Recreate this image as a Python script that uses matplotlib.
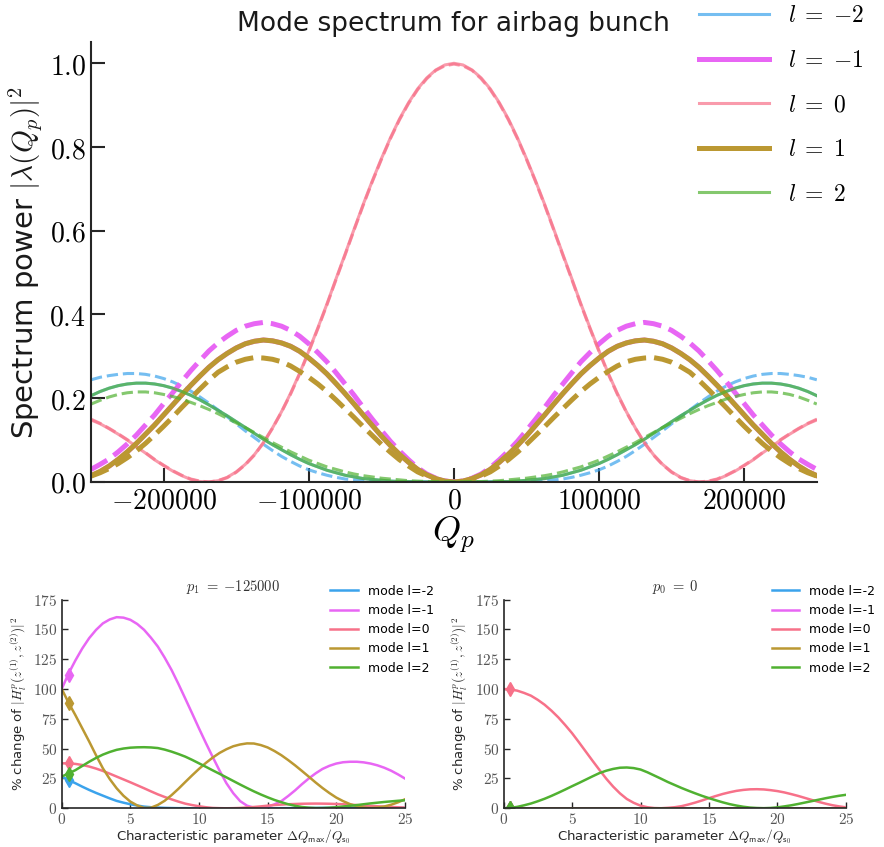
import numpy as np
import matplotlib
matplotlib.use('Agg')
import matplotlib.pyplot as plt
from matplotlib.ticker import FuncFormatter

plt.rcParams['mathtext.fontset'] = 'cm'
plt.rcParams['font.family'] = ['DejaVu Sans']

# ---- top panel: spectrum power vs Q_p (solid = unperturbed, dashed = perturbed)
qp = np.arange(-250000, 250001, 6250)
modes = [-2, -1, 0, 1, 2]
colors = ['#3ba3ec', '#e866f4', '#f77189', '#bb9832', '#50b131']

sp_2 = [0.206, 0.216, 0.224, 0.230, 0.234, 0.236, 0.236, 0.234, 0.230, 0.224, 0.216,
        0.207, 0.196, 0.184, 0.171, 0.158, 0.144, 0.130, 0.116, 0.102, 0.089, 0.077,
        0.065, 0.054, 0.044, 0.036, 0.028, 0.022, 0.016, 0.012, 0.008, 0.006, 0.004,
        0.002, 0.001, 0.001, 0.000, 0.000, 0.000, 0.000, 0.000,
        0.000, 0.000, 0.000, 0.000, 0.001, 0.001, 0.002, 0.004, 0.006, 0.008, 0.012,
        0.016, 0.022, 0.028, 0.036, 0.044, 0.054, 0.065, 0.077, 0.089, 0.102, 0.116,
        0.130, 0.144, 0.158, 0.171, 0.184, 0.196, 0.207, 0.216, 0.224, 0.230, 0.234,
        0.236, 0.236, 0.234, 0.230, 0.224, 0.216, 0.206]
sp_1 = [0.015, 0.025, 0.038, 0.054, 0.072, 0.092, 0.114, 0.136, 0.160, 0.184, 0.208,
        0.231, 0.253, 0.274, 0.292, 0.307, 0.320, 0.330, 0.336, 0.339, 0.337, 0.332,
        0.324, 0.312, 0.296, 0.278, 0.258, 0.235, 0.211, 0.186, 0.160, 0.135, 0.110,
        0.087, 0.066, 0.047, 0.030, 0.017, 0.008, 0.002, 0.000,
        0.002, 0.008, 0.017, 0.030, 0.047, 0.066, 0.087, 0.110, 0.135, 0.160, 0.186,
        0.211, 0.235, 0.258, 0.278, 0.296, 0.312, 0.324, 0.332, 0.337, 0.339, 0.336,
        0.330, 0.320, 0.307, 0.292, 0.274, 0.253, 0.231, 0.208, 0.184, 0.160, 0.136,
        0.114, 0.092, 0.072, 0.054, 0.038, 0.025, 0.015]
sp_0 = [0.148, 0.139, 0.127, 0.114, 0.100, 0.084, 0.069, 0.053, 0.039, 0.026, 0.015,
        0.006, 0.001, 0.000, 0.003, 0.011, 0.024, 0.042, 0.065, 0.094, 0.129, 0.168,
        0.212, 0.260, 0.313, 0.368, 0.425, 0.485, 0.544, 0.604, 0.663, 0.719, 0.772,
        0.822, 0.867, 0.906, 0.939, 0.965, 0.984, 0.996, 1.000,
        0.996, 0.984, 0.965, 0.939, 0.906, 0.867, 0.822, 0.772, 0.719, 0.663, 0.604,
        0.544, 0.485, 0.425, 0.368, 0.313, 0.260, 0.212, 0.168, 0.129, 0.094, 0.065,
        0.042, 0.024, 0.011, 0.003, 0.000, 0.001, 0.006, 0.015, 0.026, 0.039, 0.053,
        0.069, 0.084, 0.100, 0.114, 0.127, 0.139, 0.148]

pert_m2 = [0.244, 0.250, 0.254, 0.257, 0.259, 0.259, 0.257, 0.253, 0.247, 0.239, 0.229,
           0.217, 0.203, 0.188, 0.172, 0.156, 0.139, 0.122, 0.106, 0.090, 0.075, 0.061,
           0.049, 0.038, 0.029, 0.022, 0.016, 0.011, 0.007, 0.005, 0.003, 0.002, 0.001,
           0.000, 0.000, 0.000, 0.000, 0.000, 0.000, 0.000, 0.000,
           0.000, 0.000, 0.000, 0.000, 0.000, 0.000, 0.000, 0.001, 0.002, 0.003, 0.005,
           0.007, 0.011, 0.016, 0.022, 0.029, 0.038, 0.049, 0.061, 0.075, 0.090, 0.106,
           0.122, 0.139, 0.156, 0.172, 0.188, 0.203, 0.217, 0.229, 0.239, 0.247, 0.253,
           0.257, 0.259, 0.259, 0.257, 0.254, 0.250, 0.244]
pert_m1 = [0.030, 0.042, 0.055, 0.072, 0.091, 0.112, 0.136, 0.160, 0.187, 0.213, 0.240,
           0.266, 0.290, 0.313, 0.332, 0.348, 0.362, 0.372, 0.378, 0.381, 0.378, 0.372,
           0.362, 0.348, 0.330, 0.309, 0.287, 0.261, 0.234, 0.207, 0.178, 0.150, 0.123,
           0.097, 0.074, 0.053, 0.034, 0.019, 0.009, 0.002, 0.000,
           0.002, 0.009, 0.019, 0.034, 0.053, 0.074, 0.097, 0.123, 0.150, 0.178, 0.207,
           0.234, 0.261, 0.287, 0.309, 0.330, 0.348, 0.362, 0.372, 0.378, 0.381, 0.378,
           0.372, 0.362, 0.348, 0.332, 0.313, 0.290, 0.266, 0.240, 0.213, 0.187, 0.160,
           0.136, 0.112, 0.091, 0.072, 0.055, 0.042, 0.030]
pert_0 = [0.150, 0.140, 0.128, 0.115, 0.101, 0.085, 0.070, 0.054, 0.040, 0.027, 0.016,
          0.007, 0.002, 0.000, 0.003, 0.010, 0.023, 0.041, 0.064, 0.093, 0.128, 0.167,
          0.210, 0.258, 0.311, 0.366, 0.423, 0.483, 0.542, 0.602, 0.661, 0.717, 0.770,
          0.820, 0.865, 0.904, 0.937, 0.963, 0.983, 0.994, 0.998,
          0.994, 0.983, 0.963, 0.937, 0.904, 0.865, 0.820, 0.770, 0.717, 0.661, 0.602,
          0.542, 0.483, 0.423, 0.366, 0.311, 0.258, 0.210, 0.167, 0.128, 0.093, 0.064,
          0.041, 0.023, 0.010, 0.003, 0.000, 0.002, 0.007, 0.016, 0.027, 0.040, 0.054,
          0.070, 0.085, 0.101, 0.115, 0.128, 0.140, 0.150]
pert_p1 = [0.014, 0.022, 0.032, 0.044, 0.058, 0.074, 0.092, 0.112, 0.133, 0.155, 0.178,
           0.200, 0.222, 0.243, 0.262, 0.275, 0.286, 0.293, 0.297, 0.296, 0.293, 0.287,
           0.277, 0.264, 0.250, 0.234, 0.216, 0.196, 0.175, 0.154, 0.132, 0.111, 0.090,
           0.071, 0.053, 0.038, 0.024, 0.014, 0.006, 0.001, 0.000,
           0.001, 0.006, 0.014, 0.024, 0.038, 0.053, 0.071, 0.090, 0.111, 0.132, 0.154,
           0.175, 0.196, 0.216, 0.234, 0.250, 0.264, 0.277, 0.287, 0.293, 0.296, 0.297,
           0.293, 0.286, 0.275, 0.262, 0.243, 0.222, 0.200, 0.178, 0.155, 0.133, 0.112,
           0.092, 0.074, 0.058, 0.044, 0.032, 0.022, 0.014]
pert_p2 = [0.186, 0.195, 0.203, 0.209, 0.213, 0.215, 0.215, 0.213, 0.209, 0.204, 0.198,
           0.190, 0.182, 0.173, 0.163, 0.152, 0.141, 0.130, 0.118, 0.106, 0.094, 0.083,
           0.072, 0.062, 0.052, 0.044, 0.036, 0.030, 0.024, 0.019, 0.015, 0.012, 0.009,
           0.007, 0.005, 0.003, 0.002, 0.001, 0.001, 0.000, 0.000,
           0.000, 0.001, 0.001, 0.002, 0.003, 0.005, 0.007, 0.009, 0.012, 0.015, 0.019,
           0.024, 0.030, 0.036, 0.044, 0.052, 0.062, 0.072, 0.083, 0.094, 0.106, 0.118,
           0.130, 0.141, 0.152, 0.163, 0.173, 0.182, 0.190, 0.198, 0.204, 0.209, 0.213,
           0.215, 0.215, 0.213, 0.209, 0.203, 0.195, 0.186]

solid = [sp_2, sp_1, sp_0, sp_1, sp_2]
dashed = [pert_m2, pert_m1, pert_0, pert_p1, pert_p2]

# ---- bottom panels: % change vs characteristic parameter
dq = np.arange(0, 25.01, 0.5)
left_m2 = [26.5, 23.7, 21, 18.1, 15.4, 12.9, 10.6, 8.3, 6.2, 4.7, 3.4, 2.3, 1.4, 0.9,
           0.6, 0.35, 0.2, 0.1, 0.1, 0, 0, 0, 0, 0, 0, 0, 0, 0, 0, 0, 0, 0, 0.1, 0.1,
           0.2, 0.2, 0.3, 0.3, 0.4, 0.4, 0.5, 0.5, 0.5, 0.5, 0.5, 0.4, 0.4, 0.4, 0.4,
           0.3, 0.3]
left_m1 = [100, 113, 124, 134, 142.6, 149.5, 155, 158.3, 160.2, 159.8, 158, 154.5,
           149.6, 143, 135.6, 126.3, 116, 104.3, 92, 79.6, 67, 54.8, 43, 31.6, 21,
           12.6, 6, 2.2, 0.5, 0.4, 1.5, 3.3, 6, 10.3, 15, 20.2, 25, 29.3, 33, 35.6,
           37.5, 38.6, 39, 39, 38.5, 37.5, 36, 34, 31.5, 28.4, 25]
left_0 = [37.7, 37.6, 37.2, 36.3, 35, 33.3, 31.3, 29, 26.6, 24.2, 21.8, 19.3, 16.8,
          14.2, 11.7, 9.5, 7.5, 5.6, 3.9, 2.7, 1.7, 0.9, 0.3, 0.1, 0, 0.1, 0.3, 0.7,
          1.1, 1.6, 2.2, 2.7, 3.1, 3.4, 3.6, 3.8, 3.9, 3.95, 3.9, 3.8, 3.6, 3.4, 3.1,
          2.7, 2.2, 1.95, 1.7, 1.4, 1.1, 0.85, 0.6]
left_p1 = [100, 88.5, 78, 67, 56, 44.5, 33.5, 24.5, 16.8, 10.5, 5.6, 2.4, 0.3, 0.5,
           2.8, 6.3, 11, 16.3, 22, 27.6, 33, 38, 42.5, 46.4, 49.5, 52, 53.5, 54.4,
           54.3, 53, 51, 48, 44.5, 40.4, 36, 31.3, 26.5, 21.6, 17, 12.8, 9, 6, 3.5,
           1.7, 0.6, 0.2, 0.6, 1.5, 3, 5, 7.5]
left_p2 = [26.6, 29.2, 32, 35.5, 39, 42.2, 45, 47.2, 49, 50.1, 50.8, 51.1, 51.2, 51,
           50.5, 49.2, 47.5, 45.5, 43.3, 40.6, 37.7, 34.8, 31.8, 28.9, 25.9, 22.9,
           19.9, 17, 14.2, 11.6, 9.2, 7, 5.1, 3.4, 2.1, 1.1, 0.5, 0.2, 0.2, 0.5, 0.9,
           1.5, 2.1, 2.7, 3.4, 4.1, 4.7, 5.3, 5.8, 6.3, 6.7]
right_m2 = [0] * 51
right_m1 = [0] * 51
right_0 = [100, 99.6, 98.6, 96.7, 94.4, 90.9, 86.8, 81.8, 76.2, 69.8, 63, 55.4, 47.6,
           39.8, 32.2, 24.8, 18.2, 12.5, 7.8, 4.6, 2.2, 0.9, 0.2, 0.05, 0.4, 0.9, 1.8,
           3.2, 4.8, 6.6, 8.5, 10.3, 12, 13.4, 14.6, 15.4, 15.9, 16, 15.8, 15.2, 14.4,
           13.3, 11.9, 10.4, 8.7, 7, 5.4, 3.9, 2.6, 1.6, 0.8]
right_p1 = [0] * 51
right_p2 = [0, 0.3, 1.2, 2.5, 4, 5.9, 8, 10.4, 13, 15.7, 18.5, 21.2, 24, 26.8, 29.5,
            31.5, 33, 34, 34.2, 33.7, 32.5, 30.2, 27.5, 24.8, 22, 19.5, 17, 14.7, 12.5,
            10.4, 8.5, 6.7, 5, 3.5, 2.3, 1.3, 0.6, 0.25, 0.1, 0.3, 0.8, 1.6, 2.5, 3.6,
            4.8, 6, 7.2, 8.4, 9.5, 10.5, 11.3]
mark_x = 0.5
left_marks = [23.5, 112, 38, 88, 29]
right_marks = [0, 0, 99.8, 0, 0.3]

fig = plt.figure(figsize=(8.84, 8.47), dpi=100)

ax = fig.add_axes([0.103, 0.431, 0.821, 0.519])
for i, l in enumerate(modes):
    thick = abs(l) == 1
    lw = 3.6 if thick else 2.2
    alpha = 1.0 if thick else 0.7
    ax.plot(qp, solid[i], color=colors[i], lw=lw, alpha=alpha, label=f'$l\\;=\\;{{{l}}}$')
    ax.plot(qp, dashed[i], color=colors[i], lw=lw, alpha=alpha, ls='--')

ax.set_xlim(-250000, 250000)
ax.set_ylim(0, 1.05)
ax.set_xticks([-200000, -100000, 0, 100000, 200000])
ax.set_yticks([0.0, 0.2, 0.4, 0.6, 0.8, 1.0])
ax.xaxis.set_major_formatter(FuncFormatter(lambda v, p: f'${v:.0f}$'))
ax.yaxis.set_major_formatter(FuncFormatter(lambda v, p: f'${v:.1f}$'))
ax.tick_params(direction='in', length=10, width=1.5, labelsize=20, color='#262626')
for s in ['top', 'right']:
    ax.spines[s].set_visible(False)
for s in ['left', 'bottom']:
    ax.spines[s].set_linewidth(1.5)
    ax.spines[s].set_color('#262626')
ax.set_title('Mode spectrum for airbag bunch', fontsize=19, pad=8, color='#1a1a1a')
ax.set_ylabel('Spectrum power $|\\lambda(Q_p)|^2$', fontsize=21, color='#1a1a1a')
ax.set_xlabel('$Q_p$', fontsize=26, labelpad=0)
ax.legend(loc='upper left', bbox_to_anchor=(0.767, 1.021), bbox_transform=fig.transFigure,
          frameon=False, fontsize=17, handlelength=2.95, labelspacing=0.87)

panels = [
    ([0.0698, 0.0457, 0.3882, 0.2465], '$p_1\\;=\\;{-125000}$',
     [left_m2, left_m1, left_0, left_p1, left_p2], left_marks),
    ([0.5696, 0.0457, 0.3874, 0.2465], '$p_0\\;=\\;0$',
     [right_m2, right_m1, right_0, right_p1, right_p2], right_marks),
]
for pos, title, series, marks in panels:
    a = fig.add_axes(pos)
    for i, l in enumerate(modes):
        a.plot(dq, series[i], color=colors[i], lw=1.8, label=f'mode l={l}')
        a.plot([mark_x], [marks[i]], color=colors[i], marker='d', ms=7)
    a.set_xlim(0, 25)
    a.set_ylim(0, 175)
    a.set_xticks([0, 5, 10, 15, 20, 25])
    a.set_yticks([0, 25, 50, 75, 100, 125, 150, 175])
    a.xaxis.set_major_formatter(FuncFormatter(lambda v, p: f'${v:.0f}$'))
    a.yaxis.set_major_formatter(FuncFormatter(lambda v, p: f'${v:.0f}$'))
    a.tick_params(direction='in', length=4, width=1, labelsize=11, labelcolor='#555555',
                  color='#262626', pad=3)
    for s in ['top', 'right']:
        a.spines[s].set_visible(False)
    for s in ['left', 'bottom']:
        a.spines[s].set_linewidth(1.2)
        a.spines[s].set_color('#262626')
    a.set_title(title, fontsize=10.5, pad=6, color='#333333')
    a.set_xlabel('Characteristic parameter $\\Delta Q_\\mathsf{max}/Q_{\\mathsf{s}_0}$',
                 fontsize=9.5, labelpad=0, color='#262626')
    a.set_ylabel('% change of $|H_l^p(z^{(1)}, z^{(2)})|^2$', fontsize=9.5,
                 labelpad=4, color='#262626')
    a.legend(loc='upper left', bbox_to_anchor=(0.75, 1.125), frameon=False,
             fontsize=9, handlelength=2.2, labelspacing=0.5)

fig.savefig('out.png', dpi=100)
